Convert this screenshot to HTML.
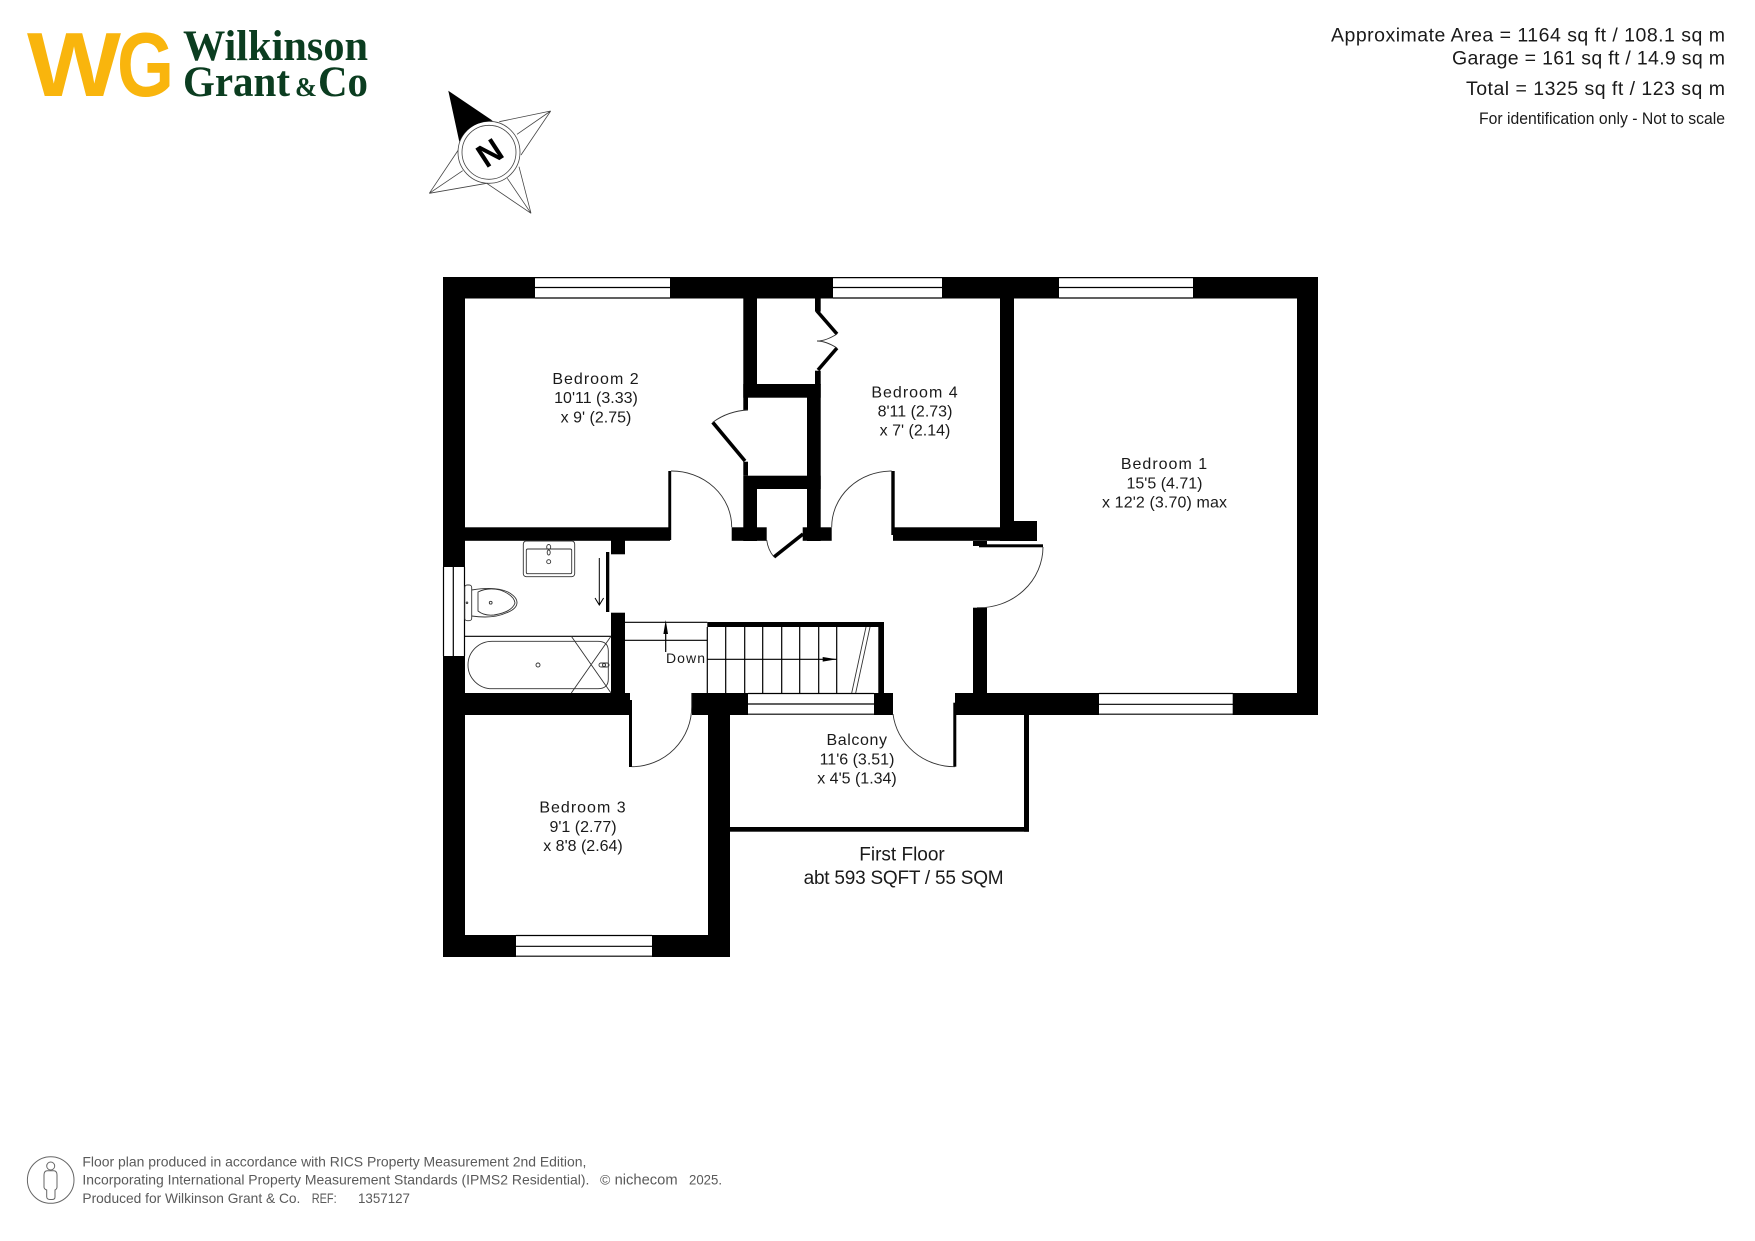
<!DOCTYPE html>
<html lang="en"><head><meta charset="utf-8"><title>First Floor Plan</title>
<style>html,body{margin:0;padding:0;background:#fff}svg{display:block}
text{font-family:"Liberation Sans",sans-serif;fill:#1a1a1a}
.r{font-size:16px;text-anchor:middle}
.t{font-size:16px;text-anchor:middle;letter-spacing:1px}
.h{font-size:19.5px;text-anchor:end}
.f{font-size:14px;fill:#5a5a5a}
.ls{font-family:"Liberation Serif",serif;fill:#0B3D20;font-weight:bold}
.wg{font-weight:bold;fill:#F9B50D}
</style></head><body>
<svg width="1755" height="1241" viewBox="0 0 1755 1241" xmlns="http://www.w3.org/2000/svg">
<rect width="1755" height="1241" fill="#fff"/>
<!-- logo -->
<text class="wg" x="27" y="96" font-size="91" textLength="94" lengthAdjust="spacingAndGlyphs">W</text>
<text class="wg" x="117" y="96" font-size="91" textLength="57" lengthAdjust="spacingAndGlyphs">G</text>
<text class="ls" x="183" y="60" font-size="43" textLength="185" lengthAdjust="spacingAndGlyphs">Wilkinson</text>
<text class="ls" x="183" y="96" font-size="43" textLength="107" lengthAdjust="spacingAndGlyphs">Grant</text>
<text class="ls" x="295" y="96" font-size="27" textLength="22" lengthAdjust="spacingAndGlyphs">&amp;</text>
<text class="ls" x="318" y="96" font-size="43" textLength="50" lengthAdjust="spacingAndGlyphs">Co</text>
<!-- compass -->
<g fill="none" stroke="#444" stroke-width=".8">
<path d="M550.7 111L499.3 121.7M550.7 111L517 134.3M550.7 111L521 155"/>
<path d="M531 213.3L519 166.7M531 213.3L507.3 178.3M531 213.3L486.7 183.3"/>
<path d="M429.3 193.3L486.7 183.3M429.3 193.3L462.7 170.7M429.3 193.3L458.3 150"/>
<circle cx="489" cy="152.3" r="31" fill="#fff"/><circle cx="489" cy="152.3" r="27"/>
</g>
<path d="M448.3 90.7L492.7 120.7Q468 122 459.3 141.7Z" fill="#000"/>
<text x="489.5" y="164.3" font-size="33" font-weight="bold" text-anchor="middle" transform="rotate(-33 489.5 152.5)" style="fill:#000">N</text>
<!-- header -->
<text class="h" x="1725" y="41.3" textLength="394">Approximate Area = 1164 sq ft / 108.1 sq m</text>
<text class="h" x="1725" y="64.7" textLength="273">Garage = 161 sq ft / 14.9 sq m</text>
<text class="h" x="1725" y="95" textLength="259">Total = 1325 sq ft / 123 sq m</text>
<text x="1725" y="124" font-size="16.5" text-anchor="end" textLength="246" lengthAdjust="spacingAndGlyphs">For identification only - Not to scale</text>
<!-- walls -->
<g fill="#000">
<rect x="443" y="277" width="92" height="21.5"/>
<rect x="670" y="277" width="163" height="21.5"/>
<rect x="942" y="277" width="117" height="21.5"/>
<rect x="1193" y="277" width="125" height="21.5"/>
<rect x="443" y="277" width="22" height="290"/>
<rect x="443" y="656" width="22" height="301"/>
<rect x="1297" y="277" width="21" height="438"/>
<rect x="465" y="527.3" width="205" height="13.5"/>
<rect x="668.3" y="471" width="2.9" height="69"/>
<rect x="611" y="540" width="14" height="14.3"/>
<rect x="606" y="552" width="3.3" height="60"/>
<rect x="611" y="612.7" width="14" height="85"/>
<rect x="443" y="693" width="187" height="22"/>
<rect x="629" y="700" width="3" height="67"/>
<rect x="443" y="935" width="73" height="22"/>
<rect x="652" y="935" width="78" height="22"/>
<rect x="708" y="693" width="22" height="264"/>
<rect x="692" y="693" width="56" height="22"/>
<rect x="874" y="693" width="19" height="22"/>
<rect x="955" y="693" width="144" height="22"/>
<rect x="953.3" y="702.7" width="3" height="64"/>
<rect x="1232.7" y="693" width="85.3" height="22"/>
<rect x="730" y="827" width="299" height="4.7"/>
<rect x="1024" y="714" width="5" height="117.7"/>
<rect x="973" y="607.7" width="14" height="86"/>
<rect x="1000" y="298" width="14" height="225"/>
<rect x="1000" y="521" width="37" height="20"/>
<rect x="893" y="527.3" width="144" height="13.5"/>
<rect x="891.3" y="471" width="3.4" height="64"/>
<rect x="973" y="541" width="14" height="5"/>
<rect x="979" y="544.3" width="64" height="3"/>
<rect x="743.3" y="298" width="13.7" height="86"/>
<rect x="743.3" y="384" width="77.4" height="13.7"/>
<rect x="743.3" y="384" width="4.7" height="26"/>
<rect x="743.3" y="461.7" width="4.7" height="14"/>
<rect x="807" y="384" width="13.7" height="157"/>
<rect x="815" y="298" width="5.7" height="13.7"/>
<rect x="815" y="370.7" width="5.7" height="14"/>
<rect x="743.3" y="475.7" width="77.4" height="13.3"/>
<rect x="743.3" y="489" width="13.7" height="52"/>
<rect x="731.7" y="527.3" width="35" height="13.5"/>
<rect x="802.7" y="527.3" width="29" height="13.5"/>
<rect x="707.3" y="622" width="176.7" height="5"/>
<rect x="878.3" y="622" width="5.7" height="71"/>
</g>
<!-- door leaves -->
<g fill="none" stroke="#000" stroke-width="3.6">
<path d="M817 311L837 334M837 348L818 370"/>
<path d="M712.7 422.3L745 461"/>
<path d="M774 557L803 534"/>
</g>
<!-- thin lines -->
<g fill="none" stroke="#000" stroke-width="1.2">
<path d="M535 277.6H670M535 287.5H670M535 298H670"/>
<path d="M833 277.6H942M833 287.5H942M833 298H942"/>
<path d="M1059 277.6H1193M1059 287.5H1193M1059 298H1193"/>
<path d="M516 935.5H652M516 946.3H652M516 956.2H652"/>
<path d="M748 693.5H874M748 704H874M748 714.2H874"/>
<path d="M1099 693.5H1233M1099 704.3H1233M1099 714.2H1233"/>
<path d="M443.5 567V656M453.3 567V656M464.5 567V656"/>
<path d="M707.3 627V693M725.7 627V693M744.7 627V693M762.7 627V693M781.7 627V693M799.7 627V693M818.7 627V693M836.7 627V693M707.3 659.3H836.7"/>
<path d="M625 622.3H707.3M625 640.3H707.3M665.7 652V630"/>
<path d="M599.3 558V604M595 598L599.3 605L603.6 598" stroke-width="1"/>
<path d="M465 636.3H611"/>
</g>
<g fill="none" stroke="#333" stroke-width=".9">
<path d="M671 471A60 56 0 0 1 731.7 527.3"/>
<path d="M891.7 471A60 56 0 0 0 831.7 527.3"/>
<path d="M712.7 422.3Q728 411 748 410"/>
<path d="M837 334Q826 341 817 341Q826 341 837 348"/>
<path d="M766.7 540Q768 550 774 557"/>
<path d="M631.7 766.7A60 60 0 0 0 691.7 706V693"/>
<path d="M893 714A62 60 0 0 0 955 766.7"/>
<path d="M1043 547A64 61 0 0 1 977 607.7"/>
<path d="M866 627L851.7 693M870 627L855.7 693"/>
<path d="M571.3 636.3L611 693M611 636.3L571.3 693"/>
<path d="M492 641.3H598Q608.3 641.3 608.3 651V679Q608.3 688.7 598 688.7H492A24 23.7 0 0 1 492 641.3Z"/>
<circle cx="538" cy="665" r="2"/>
<rect x="599" y="663" width="10" height="4" rx="2"/><circle cx="604" cy="665" r="1.5"/>
<rect x="523.3" y="541" width="51.4" height="35.7" rx="3"/>
<rect x="526.3" y="549" width="45.4" height="24.7" rx="1.5"/>
<ellipse cx="548.7" cy="547" rx="2" ry="2.5"/><ellipse cx="548.7" cy="552.5" rx="1.5" ry="2.5"/><circle cx="548.7" cy="561.7" r="2"/>
<rect x="464.7" y="585" width="7" height="35.7" rx="2.5"/>
<path d="M471.7 590Q495 586 508 592Q517 597 517 602.5Q517 609 506 613Q493 619 471.7 616"/>
<path d="M478 592V611Q484 616 494 615Q512 612 515 603Q514 595 500 590Q488 587 478 592Z"/>
<circle cx="490.7" cy="602.7" r="1.4"/><circle cx="467" cy="602.7" r=".8"/>
</g>
<path d="M665.7 620L668 634H663.4Z" fill="#000"/>
<path d="M836.7 659.3L822.7 657V661.6Z" fill="#000"/>
<!-- labels -->
<text class="t" x="596" y="384">Bedroom 2</text><text class="r" x="596" y="403">10'11 (3.33)</text><text class="r" x="596" y="422.5">x 9' (2.75)</text>
<text class="t" x="915" y="397.3">Bedroom 4</text><text class="r" x="915" y="416.7">8'11 (2.73)</text><text class="r" x="915" y="435.7">x 7' (2.14)</text>
<text class="t" x="1164.5" y="469">Bedroom 1</text><text class="r" x="1164.5" y="488.5">15'5 (4.71)</text><text class="r" x="1164.5" y="507.3" textLength="125">x 12'2 (3.70) max</text>
<text class="t" x="583" y="812.5">Bedroom 3</text><text class="r" x="583" y="832">9'1 (2.77)</text><text class="r" x="583" y="851">x 8'8 (2.64)</text>
<text class="t" x="857" y="745" style="letter-spacing:.6px">Balcony</text><text class="r" x="857" y="764.3">11'6 (3.51)</text><text class="r" x="857" y="783.3">x 4'5 (1.34)</text>
<text x="666" y="663" font-size="14" textLength="39">Down</text>
<text x="902" y="860.6" font-size="19" text-anchor="middle">First Floor</text>
<text x="903.6" y="884" font-size="19" text-anchor="middle" textLength="200">abt 593 SQFT / 55 SQM</text>
<!-- footer -->
<g fill="none" stroke="#666" stroke-width="1"><circle cx="50.7" cy="1180" r="23.3"/><circle cx="50.7" cy="1166" r="4"/>
<path d="M47 1170.7Q44 1171 44 1175V1187Q44 1189 46.7 1190V1197Q47 1199.5 50 1199.5H52Q55 1199.5 55 1197V1190Q57 1189 57 1187V1175Q57 1171 54 1170.7Z"/></g>
<text class="f" x="82.4" y="1166.5" textLength="504" lengthAdjust="spacingAndGlyphs">Floor plan produced in accordance with RICS Property Measurement 2nd Edition,</text>
<text class="f" x="82.4" y="1184.7" textLength="507" lengthAdjust="spacingAndGlyphs">Incorporating International Property Measurement Standards (IPMS2 Residential).</text>
<text class="f" x="600" y="1184.7">©</text>
<text class="f" x="614.6" y="1184.7" textLength="63" lengthAdjust="spacingAndGlyphs" style="font-size:15px">nichecom</text>
<text class="f" x="689" y="1184.7" textLength="33" lengthAdjust="spacingAndGlyphs">2025.</text>
<text class="f" x="82.4" y="1203" textLength="218" lengthAdjust="spacingAndGlyphs">Produced for Wilkinson Grant &amp; Co.</text>
<text class="f" x="311.7" y="1203" textLength="25" lengthAdjust="spacingAndGlyphs">REF:</text>
<text class="f" x="358" y="1203" textLength="52" lengthAdjust="spacingAndGlyphs">1357127</text>
</svg>
</body></html>
